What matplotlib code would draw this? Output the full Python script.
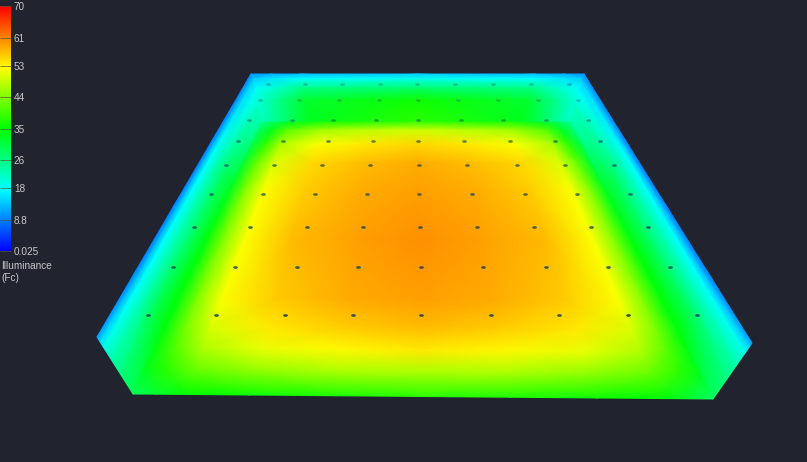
import matplotlib
matplotlib.use('Agg')
import matplotlib.pyplot as plt
from matplotlib.colors import LinearSegmentedColormap
from matplotlib.markers import MarkerStyle
from matplotlib.transforms import Affine2D
import numpy as np

bg = '#21242f'
W, H = 807, 462

cb_ticks = [0.025, 8.8, 18, 26, 35, 44, 53, 61, 70]
cb_labels = ['0.025', '8.8', '18', '26', '35', '44', '53', '61', '70']

# corners of the room in image pixels
back_top = [(251, 74), (584, 74)]
back_floor = [(262, 122), (570, 122)]
front_floor = [(133, 394), (713, 399)]
front_top = [(97, 337), (752, 343)]

# floor illuminance, rows back to front, columns left to right
floor_rows = [0, .03, .08, .15, .25, .43, .65, .75, .83, .91, 1]
floor_cols = [0, .04, .09, .2, .35, .5, .65, .8, .91, .96, 1]
floor_vals = [
    [26, 29, 33, 37, 38, 39, 38, 37, 33, 29, 25],
    [28, 33, 41, 46, 48, 49, 48, 46, 41, 33, 27],
    [30, 38, 47, 52, 54, 55, 54, 52, 47, 38, 30],
    [32, 42, 50, 55, 57, 58, 57, 55, 50, 42, 32],
    [33, 44, 52, 56, 58, 59, 58, 56, 52, 44, 33],
    [34, 44, 52, 57, 59, 60, 59, 57, 52, 44, 34],
    [34, 44, 52, 56, 58, 59, 58, 56, 52, 44, 34],
    [34, 43, 50, 54, 56, 57, 56, 54, 50, 43, 34],
    [34, 41, 47, 51, 53, 54, 53, 51, 47, 41, 34],
    [33, 38, 42, 45, 47, 47, 47, 45, 42, 38, 33],
    [29, 32, 35, 36, 37, 38, 37, 36, 35, 32, 28],
]

# back wall, top edge down to the floor
back_rows = [0, .1, .3, .55, 1]
back_cols = [0, .06, .15, .5, .85, .94, 1]
back_vals = [
    [10, 12, 13, 14, 13, 12, 10],
    [14, 16, 18, 19, 18, 16, 14],
    [18, 21, 26, 28, 26, 21, 18],
    [20, 25, 32, 36, 32, 25, 20],
    [22, 26, 33, 38, 33, 26, 21],
]

# side walls, outer edge in to the floor, back to front
side_rows = [0, .25, .5, .75, 1]
side_cols = [0, .08, .18, .4, .65, 1]
left_vals = [
    [10, 12, 15, 18, 21, 24],
    [9, 13, 18, 23, 28, 33],
    [9, 13, 18, 23, 28, 35],
    [9, 13, 18, 23, 29, 35],
    [11, 15, 19, 23, 26, 30],
]
right_vals = [
    [10, 12, 15, 18, 21, 23],
    [9, 13, 18, 23, 28, 33],
    [9, 13, 18, 23, 28, 35],
    [9, 13, 18, 23, 29, 35],
    [11, 15, 19, 23, 26, 29],
]

# sensor points, one list of x per row
dot_y = [84, 100, 120, 141, 165, 194, 227, 267, 315]
dot_x = [
    [268, 305, 342, 380, 417, 455, 493, 531, 569],
    [260, 299, 339, 379, 418, 458, 498, 538, 578],
    [249, 292, 333, 376, 418, 461, 503, 546, 588],
    [238, 283, 328, 373, 418, 464, 510, 555, 600],
    [226, 274, 322, 370, 419, 467, 517, 565, 614],
    [211, 263, 315, 367, 419, 472, 525, 577, 630],
    [194, 250, 307, 363, 420, 477, 534, 591, 648],
    [173, 235, 297, 358, 421, 483, 546, 608, 670],
    [148, 216, 285, 353, 421, 491, 559, 628, 697],
]
dot_alpha = [.3, .3, .45, .6, .65, .7, .75, .8, .85]

cmap = LinearSegmentedColormap.from_list('illum', ['#0000ff', '#00ffff', '#00ff00', '#ffff00', '#ff0000'])


def face(ax, c00, c01, c10, c11, rows, cols, vals):
    # c00/c01 first row ends, c10/c11 last row ends
    r, c = np.meshgrid(rows, cols, indexing='ij')
    xs = (1-r)*(1-c)*c00[0] + (1-r)*c*c01[0] + r*(1-c)*c10[0] + r*c*c11[0]
    ys = (1-r)*(1-c)*c00[1] + (1-r)*c*c01[1] + r*(1-c)*c10[1] + r*c*c11[1]
    ax.pcolormesh(xs, ys, np.array(vals), shading='gouraud', cmap=cmap, vmin=0.025, vmax=70, rasterized=True)


fig = plt.figure(figsize=(W/100, H/100), dpi=100, facecolor=bg)
plt.rcParams['font.family'] = ['Liberation Sans', 'DejaVu Sans']

ax = fig.add_axes([0, 0, 1, 1])
ax.set_xlim(0, W)
ax.set_ylim(H, 0)
ax.axis('off')

face(ax, back_top[0], back_top[1], back_floor[0], back_floor[1], back_rows, back_cols, back_vals)
face(ax, back_top[0], back_floor[0], front_top[0], front_floor[0], side_rows, side_cols, left_vals)
face(ax, back_top[1], back_floor[1], front_top[1], front_floor[1], side_rows, side_cols, right_vals)
face(ax, back_floor[0], back_floor[1], front_floor[0], front_floor[1], floor_rows, floor_cols, floor_vals)

dot_marker = MarkerStyle('o', transform=Affine2D().scale(1.4, 0.8))
for y, xs, a in zip(dot_y, dot_x, dot_alpha):
    ax.scatter(xs, [y]*len(xs), s=6, marker=dot_marker, color='#12405a', alpha=a, linewidths=0)

# colour bar on the left edge
cax = fig.add_axes([0, 1 - 251/H, 11/W, 245/H])
grad = np.linspace(0.025, 70, 256).reshape(-1, 1)
cax.imshow(grad, origin='lower', aspect='auto', cmap=cmap, extent=[0, 1, 0.025, 70])
cax.set_xticks([])
cax.set_yticks(cb_ticks)
cax.set_yticklabels(cb_labels)
cax.yaxis.tick_right()
cax.tick_params(axis='y', direction='in', length=8, width=0.5, color='#55553a', labelcolor='#c8c8c8', labelsize=7.2, pad=2)
for s in cax.spines.values():
    s.set_visible(False)

ax.text(1, 266, 'Illuminance', color='#c8c8c8', fontsize=7.2, va='center')
ax.text(1, 278, '(Fc)', color='#c8c8c8', fontsize=7.2, va='center')

fig.savefig('out.png', dpi=100, facecolor=bg)
